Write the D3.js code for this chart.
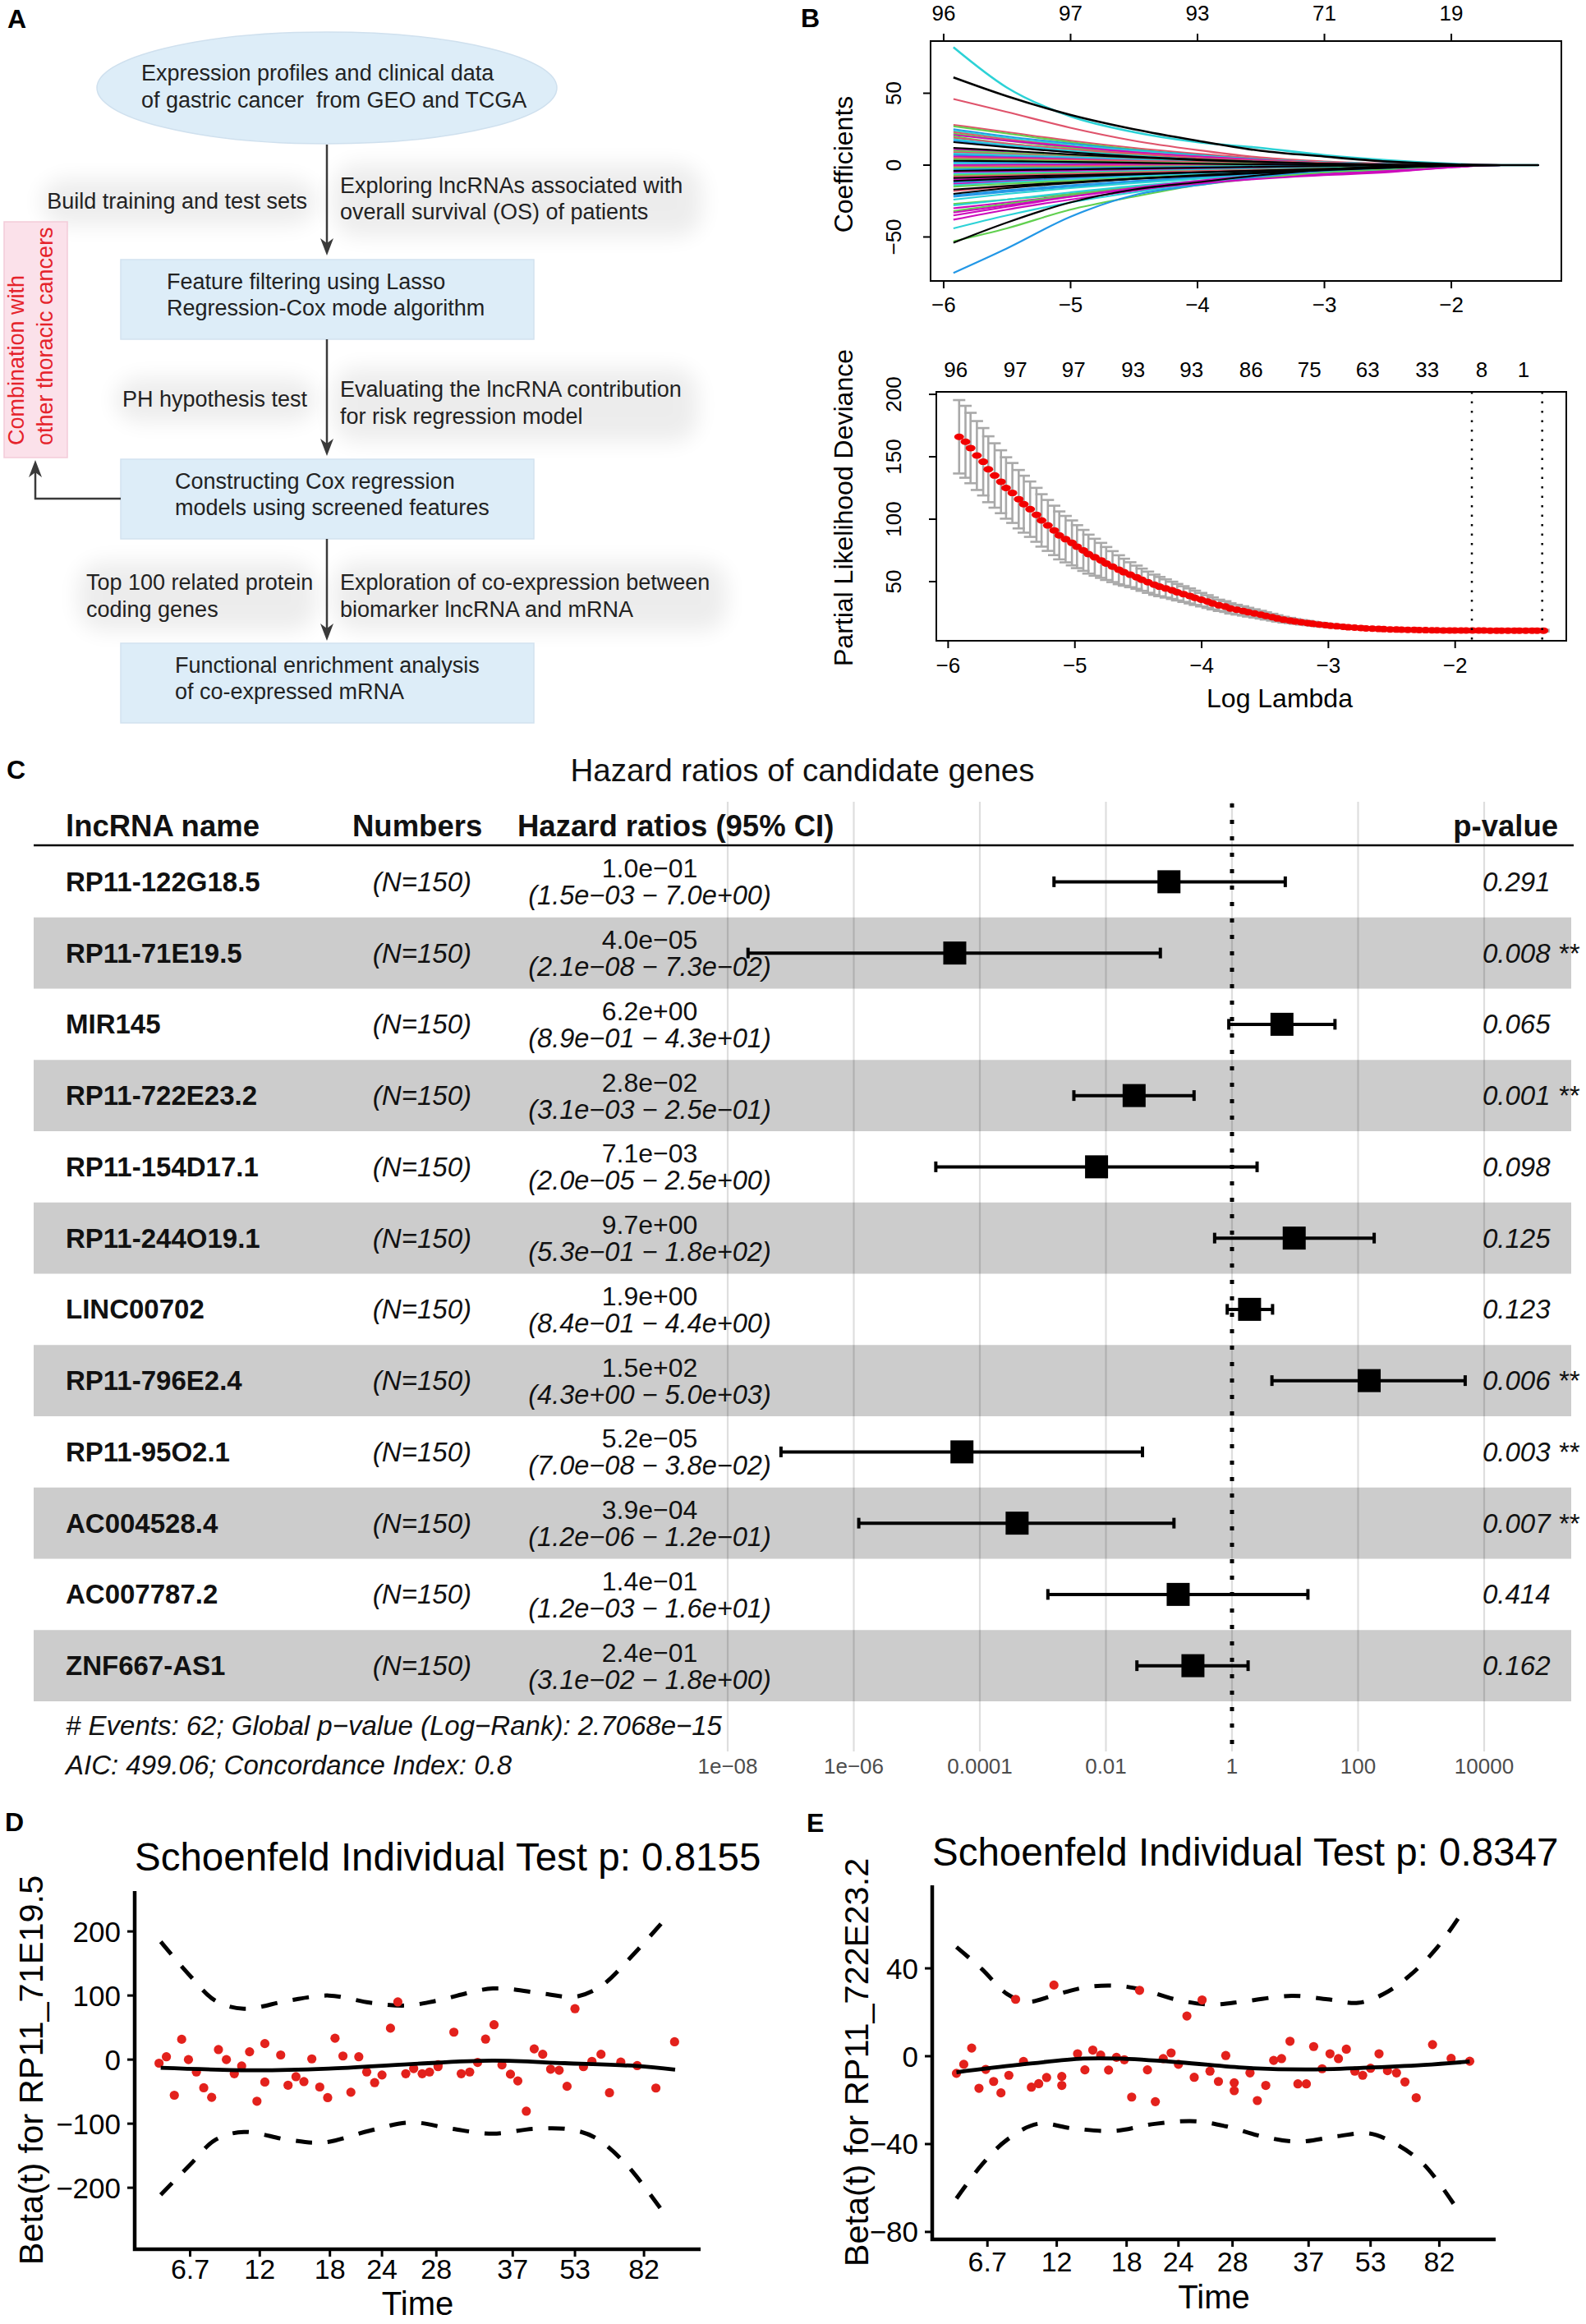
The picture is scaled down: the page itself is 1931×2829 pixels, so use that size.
<!DOCTYPE html>
<html><head><meta charset="utf-8">
<script src="https://cdn.jsdelivr.net/npm/d3@7"></script>
<style>
html,body{margin:0;padding:0;background:#fff;}
svg{display:block;font-family:"Liberation Sans",Arial,Helvetica,sans-serif;}
text{white-space:pre;}
</style></head><body>
<svg id="fig" width="1931" height="2829"></svg>
<script>
// ================= DATA =================
// Panel A (flow chart text)
const ellipseLines = ["Expression profiles and clinical data", "of gastric cancer  from GEO and TCGA"];
const boxLines = [["Feature filtering using Lasso", "Regression-Cox mode algorithm"],
                  ["Constructing Cox regression", "models using screened features"],
                  ["Functional enrichment analysis", "of co-expressed mRNA"]];
const leftNotes = [["Build training and test sets"], ["PH hypothesis test"], ["Top 100 related protein", "coding genes"]];
const rightNotes = [["Exploring lncRNAs associated with", "overall survival (OS) of patients"],
                    ["Evaluating the lncRNA contribution", "for risk regression model"],
                    ["Exploration of co-expression between", "biomarker lncRNA and mRNA"]];
const sideNote = ["Combination with", "other thoracic cancers"];

// Panel B (top): lasso coefficient paths
const coefLambda = [-5.92, -5.5, -5.0, -4.5, -4.0, -3.5, -3.0, -2.5, -2.0, -1.6, -1.31];
const coefPaths = [
 [82,54,34,23,16,12,7,3.4,1,0,0],[61,48,35,25,17,10,6,2.5,0.5,0,0],[46,37,26,17,10.5,5.3,2.5,1,0.2,0,0],
 [28,23,17,12,8,4.5,2.2,0.8,0.2,0,0],[27,22,16,11,7,4,2,0.7,0.1,0,0],[25,20,15,10.5,7,4,2,0.8,0.2,0,0],
 [24,19,14,10,6.5,3.8,1.8,0.6,0.1,0,0],[23,18,13,9,6,3.5,1.6,0.5,0.1,0,0],[22,17,12,8,5,3,1.4,0.4,0,0,0],
 [21,17,13,9,6,3.5,1.5,0.5,0.1,0,0],[20,15,11,7,4.5,2.5,1.2,0.3,0,0,0],[19,15,11,8,5,3,1.5,0.5,0,0,0],
 [18,14,10,6.5,4,2.2,1,0.3,0,0,0],[17,13,9,6,3.8,2,0.9,0.2,0,0,0],[16,12.5,9,6,4,2.3,1,0.3,0,0,0],
 [12,10,7.5,5.5,3.5,2,1,0.3,0,0,0],[11,9,7,5,3.2,1.8,0.8,0.2,0,0,0],[10,8.5,6.5,4.5,3,1.6,0.7,0.2,0,0,0],
 [9,7.5,6,4.2,2.8,1.5,0.7,0.2,0,0,0],[8,7,5.5,4,2.6,1.4,0.6,0.2,0,0,0],[7,6,4.5,3.2,2,1.1,0.5,0.1,0,0,0],
 [6,5.2,4.2,3,2,1.1,0.5,0.1,0,0,0],[5,4.5,3.8,3,2.2,1.3,0.6,0.2,0,0,0],[4,3.5,2.8,2,1.3,0.7,0.3,0.1,0,0,0],
 [3,2.7,2.2,1.6,1,0.5,0.2,0,0,0,0],[2,1.8,1.5,1.1,0.7,0.4,0.2,0,0,0,0],[1,1,0.8,0.6,0.4,0.2,0.1,0,0,0,0],
 [0,0.2,0.4,0.5,0.4,0.3,0.1,0,0,0,0],[-1,-0.8,-0.6,-0.4,-0.3,-0.2,-0.1,0,0,0,0],[-2,-1.8,-1.5,-1.1,-0.8,-0.5,-0.3,-0.1,0,0,0],
 [-3,-2.6,-2.2,-1.7,-1.2,-0.8,-0.4,-0.1,0,0,0],[-4,-3.5,-3,-2.4,-1.8,-1.2,-0.6,-0.2,0,0,0],[-5,-4.5,-4,-3.3,-2.6,-1.8,-1.1,-0.4,0,0,0],
 [-6,-5.5,-5,-4.2,-3.4,-2.6,-1.8,-0.8,-0.1,0,0],[-7,-6.4,-5.6,-4.8,-4,-3.2,-2.4,-1.2,-0.2,0,0],[-8,-7.2,-6.2,-5.2,-4.2,-3.4,-2.6,-1.6,-0.4,0,0],
 [-9,-8,-7,-6,-5,-4,-3,-1.8,-0.5,0,0],[-10,-9,-8,-7,-6,-5.2,-4.2,-2.5,-0.8,0,0],[-11,-9.5,-8,-6.5,-5,-3.8,-2.6,-1.4,-0.3,0,0],
 [-12,-10.5,-9,-7.5,-6,-5,-4,-2.6,-0.8,0,0],[-13,-11.5,-10,-8.5,-7,-6,-5,-3.5,-1.2,0,0],[-14,-12,-10,-8,-6.5,-5,-3.6,-2,-0.5,0,0],
 [-15,-13,-11,-9,-7,-5.5,-4,-2.2,-0.5,0,0],[-17,-14.5,-12,-9.5,-7.5,-5.5,-3.5,-1.8,-0.4,0,0],[-18,-15,-12,-9.5,-7.5,-6,-4.5,-2.5,-0.6,0,0],
 [-20,-16,-12.5,-9.5,-7,-5,-3,-1.5,-0.3,0,0],[-21,-17.5,-14,-11,-8.5,-6.5,-4.5,-2.5,-0.6,0,0],[-22,-18.5,-15,-12,-9,-7,-5.5,-3.5,-1,0,0],
 [-24,-20,-16,-12.5,-9.5,-7,-5,-2.8,-0.7,0,0],[-27,-24,-20,-15,-11,-8,-5.5,-3,-0.8,0,0],[-28,-24,-19,-14.5,-11,-8,-6,-3.5,-1,0,0],
 [-30,-26,-21,-16,-12,-8.5,-6,-4,-1.2,0,0],[-32,-27,-21,-16,-12,-8.5,-6,-3.5,-1,0,0],[-35,-29,-22,-16,-11,-7.5,-6,-4.5,-1.5,0,0],
 [-38,-31,-24,-18,-13,-9,-6.5,-4,-1.2,0,0],[-44,-35,-26,-19,-13,-8,-5,-2.5,-0.8,0,0],[-53,-44,-31,-22,-14,-9,-5,-2.5,-0.8,0,0],
 [-54,-40,-26,-17,-12,-7,-3.2,-0.8,0,0,0],[-75,-58,-36,-21,-14,-8,-4,-2,-0.5,0,0],[-33,-28,-22,-17,-13,-9.5,-7,-5,-1.5,0,0]
];
const coefTopTicks = [-6, -5, -4, -3, -2];
const coefTopLabels = ["96", "97", "93", "71", "19"];
const coefYTicks = [-50, 0, 50];

// Panel B (bottom): cross-validation curve
const cvLambda = [-5.91,-5.86,-5.82,-5.77,-5.72,-5.68,-5.63,-5.58,-5.54,-5.49,
 -5.44,-5.40,-5.35,-5.30,-5.26,-5.21,-5.16,-5.12,-5.07,-5.02,
 -4.98,-4.93,-4.89,-4.84,-4.79,-4.75,-4.70,-4.65,-4.61,-4.56,
 -4.51,-4.47,-4.42,-4.37,-4.33,-4.28,-4.23,-4.19,-4.14,-4.09,
 -4.05,-4.00,-3.95,-3.91,-3.86,-3.81,-3.77,-3.72,-3.67,-3.63,
 -3.58,-3.53,-3.49,-3.44,-3.40,-3.35,-3.30,-3.26,-3.21,-3.16,
 -3.12,-3.07,-3.02,-2.98,-2.93,-2.88,-2.84,-2.79,-2.74,-2.70,
 -2.65,-2.60,-2.56,-2.51,-2.46,-2.42,-2.37,-2.32,-2.28,-2.23,
 -2.18,-2.14,-2.09,-2.04,-2.00,-1.95,-1.91,-1.86,-1.81,-1.77,
 -1.72,-1.67,-1.63,-1.58,-1.53,-1.49,-1.44,-1.39,-1.35,-1.30];
const cvMean = [166,162,157,151,146,140,135,130,125,121,
 116,112,108,103.5,99,95,91,87,84,81,
 78,75,72,69.5,67,64.5,62,59.5,57.5,55.5,
 53.5,51.5,49.5,47.5,46,44.5,43,41.5,40,38.5,
 37,35.5,34,32.5,31,30,28.5,27.5,26.5,25.5,
 24.5,23.5,22.5,21.5,20.5,19.5,18.8,18.1,17.4,16.8,
 16.2,15.6,15.1,14.6,14.2,13.8,13.4,13.1,12.8,12.5,
 12.3,12.1,11.9,11.7,11.6,11.5,11.4,11.3,11.2,11.1,
 11.0,11.0,10.9,10.9,10.9,10.8,10.8,10.8,10.8,10.8,
 10.7,10.7,10.7,10.7,10.7,10.7,10.7,10.7,10.7,10.7];
const cvSd = [29.4,28.8,28.2,27.6,27,26.4,25.8,25.2,24.6,24,
 23.4,22.8,22.2,21.6,21,20.4,19.8,19.2,18.6,18,
 17.2,16.4,15.6,14.8,14,13.2,12.4,11.6,10.8,10,
 9.3,8.9,8.5,8.1,7.7,7.3,6.9,6.6,6.3,6,
 5.7,5.4,5.1,4.8,4.5,4.3,4.1,3.9,3.7,3.5,
 3.3,3.1,2.9,2.7,2.5,2.3,2.1,1.9,1.8,1.7,
 1.6,1.5,1.4,1.3,1.2,1.1,1.0,0.9,0.9,0.8,
 0.8,0.8,0.8,0.8,0.8,0.8,0.8,0.8,0.8,0.8,
 0.7,0.7,0.7,0.7,0.7,0.7,0.7,0.7,0.7,0.7,
 0.7,0.7,0.7,0.7,0.7,0.7,0.7,0.7,0.7,0.7];
const cvNzLambda = [-5.94,-5.47,-5.01,-4.54,-4.08,-3.61,-3.15,-2.69,-2.22,-1.79,-1.46];
const cvNzLabels = ["96","97","97","93","93","86","75","63","33","8","1"];
const cvCutoffs = [-1.865, -1.31];
const cvXTicks = [-6, -5, -4, -3, -2];
const cvYTicks = [50, 100, 150, 200];

// Panel C: forest plot
const genes = ["RP11-122G18.5","RP11-71E19.5","MIR145","RP11-722E23.2","RP11-154D17.1","RP11-244O19.1",
               "LINC00702","RP11-796E2.4","RP11-95O2.1","AC004528.4","AC007787.2","ZNF667-AS1"];
const nLabels = ["(N=150)","(N=150)","(N=150)","(N=150)","(N=150)","(N=150)","(N=150)","(N=150)","(N=150)","(N=150)","(N=150)","(N=150)"];
const hr     = [1.0e-1, 4.0e-5, 6.2, 2.8e-2, 7.1e-3, 9.7, 1.9, 1.5e2, 5.2e-5, 3.9e-4, 1.4e-1, 2.4e-1];
const hrLow  = [1.5e-3, 2.1e-8, 8.9e-1, 3.1e-3, 2.0e-5, 5.3e-1, 8.4e-1, 4.3, 7.0e-8, 1.2e-6, 1.2e-3, 3.1e-2];
const hrHigh = [7.0, 7.3e-2, 4.3e1, 2.5e-1, 2.5, 1.8e2, 4.4, 5.0e3, 3.8e-2, 1.2e-1, 1.6e1, 1.8];
const pValues = ["0.291","0.008","0.065","0.001","0.098","0.125","0.123","0.006","0.003","0.007","0.414","0.162"];
const pStars  = ["","**","","**","","","","**","**","**","",""];
const forestTicks = [1e-8, 1e-6, 1e-4, 1e-2, 1, 100, 10000];
const forestTickLabels = ["1e\u221208","1e\u221206","0.0001","0.01","1","100","10000"];
const forestFooter = ["# Events: 62; Global p\u2212value (Log\u2212Rank): 2.7068e\u221215", "AIC: 499.06; Concordance Index: 0.8"];

// Panels D & E: Schoenfeld residuals (time on transformed scale 0..1)
const timeTickPos = [0.098, 0.221, 0.345, 0.437, 0.533, 0.668, 0.778, 0.900];
const timeTickLabels = ["6.7","12","18","24","28","37","53","82"];
const eventTime = [0.043,0.056,0.070,0.083,0.095,0.109,0.122,0.136,0.148,0.162,0.176,0.189,0.203,0.216,0.230,0.230,
 0.258,0.271,0.285,0.299,0.313,0.327,0.341,0.354,0.368,0.382,0.396,0.410,0.424,0.437,0.452,0.465,0.479,0.493,0.508,
 0.521,0.536,0.536,0.564,0.577,0.592,0.606,0.620,0.635,0.649,0.664,0.677,0.692,0.706,0.721,0.735,0.750,0.764,0.778,
 0.793,0.808,0.824,0.839,0.859,0.888,0.921,0.954];
const dResid = [-5.6,4.4,-55.6,31.7,0,-19.4,-44,-59,15.6,0,-22,-10,12.2,-65,25,-35,7.2,-40,-26.7,-34.4,
 1.1,-42.8,-59.4,33.3,5.6,-51,4.4,-19.4,-36,-24,49,90,-22,-14,-22,-19.4,-11,-8,42.8,-22,
 -19.4,-4.4,32,54.4,-8.3,-22.8,-33.3,-80.5,16.7,8.3,-15,-16.7,-41.7,79.4,-11,-2.8,8.3,-51.7,-3.9,-9.4,-44.4,27.8];
const dFit = [[0.046,-12.8],[0.215,-16.7],[0.343,-14],[0.488,-7],[0.633,-1.7],[0.76,-5.6],[0.887,-10],[0.955,-15.6]];
const dUpper = [[0.046,184],[0.098,130.6],[0.143,91.7],[0.193,79.4],[0.27,91.7],[0.343,100],[0.415,88.9],[0.479,84.4],
 [0.533,91.7],[0.633,111],[0.723,102.8],[0.778,98],[0.823,114],[0.878,161],[0.946,228]];
const dLower = [[0.046,-211],[0.098,-164],[0.143,-125],[0.193,-113],[0.27,-125],[0.333,-129.4],[0.415,-111],[0.488,-98],
 [0.56,-108],[0.633,-115.6],[0.705,-108],[0.769,-109],[0.814,-122],[0.869,-164],[0.941,-247]];
const eResid = [-7.8,-3.7,3.7,-14.6,-6,-11.5,-16.7,-8.7,25.9,-2.4,-14.1,-12.5,-9.7,32.4,-9.2,-13.3,1.1,-6.2,2.8,0.5,
 -6.3,-0.5,-1.6,-18.6,30,-6.2,-20.7,-1.1,1.5,-3.7,18.3,-9.6,25.6,-6.8,-11.5,0.3,-12.1,-15.7,-7.6,-20.2,
 -13.3,-1.9,-1.1,6.8,-12.6,-12.6,4.4,-5.7,1.1,-1.1,3.2,-6.8,-8.7,-5.5,1.1,-6.6,-7.6,-11.7,-18.9,5.3,-1,-2.3];
const eFit = [[0.043,-7.3],[0.151,-4],[0.268,-1.1],[0.332,-1.1],[0.44,-2.8],[0.557,-5.3],[0.666,-6],[0.765,-5.3],[0.873,-4],[0.954,-2.4]];
const eUpper = [[0.043,49.7],[0.088,39.7],[0.133,28.3],[0.169,24.8],[0.223,28.3],[0.277,31.6],[0.332,32],[0.377,30],[0.431,25.9],
 [0.494,23.5],[0.557,25.1],[0.638,27.5],[0.702,25.9],[0.756,24.3],[0.801,28.3],[0.846,36.4],[0.896,49.4],[0.945,67.2]];
const eLower = [[0.043,-64.8],[0.088,-49.4],[0.133,-38],[0.187,-30.8],[0.25,-32.9],[0.323,-34],[0.395,-30.8],[0.467,-29.6],
 [0.521,-31.9],[0.584,-36.4],[0.648,-38.9],[0.72,-36.4],[0.774,-35.1],[0.819,-39.4],[0.873,-49.4],[0.936,-71.3]];

// ================= DRAWING =================
const svg = d3.select('#fig');
const defs = svg.append('defs');
defs.append('filter').attr('id','haze').attr('x','-40%').attr('y','-80%').attr('width','180%').attr('height','260%')
  .append('feGaussianBlur').attr('stdDeviation', 13);

function txt(g, x, y, s, o = {}) {
  const t = g.append('text').attr('x', x).attr('y', y).text(s)
    .attr('font-size', o.size || 27).attr('fill', o.fill || '#222')
    .attr('text-anchor', o.anchor || 'start').attr('dominant-baseline', 'central');
  if (o.weight) t.attr('font-weight', o.weight);
  if (o.style) t.attr('font-style', o.style);
  if (o.rotate) t.attr('transform', `rotate(${o.rotate},${x},${y})`);
  return t;
}

// panel letters
[["A",9,23],["B",975,22],["C",8,937],["D",6,2218],["E",982,2219]].forEach(([l,x,y]) =>
  txt(svg, x, y, l, {size: 32, weight: 'bold', fill: '#000'}));

// ---------- Panel A ----------
const gA = svg.append('g');
const hazeRects = [[50,218,335,56],[405,200,450,88],[140,460,245,54],[405,448,445,90],[95,684,290,84],[405,684,480,84]];
hazeRects.forEach(r => gA.append('rect').attr('x', r[0]).attr('y', r[1]).attr('width', r[2]).attr('height', r[3])
  .attr('rx', 30).attr('fill', '#000').attr('opacity', 0.07).attr('filter', 'url(#haze)'));

gA.append('ellipse').attr('cx', 398).attr('cy', 107).attr('rx', 280).attr('ry', 68)
  .attr('fill', '#ddedf8').attr('stroke', '#cfe0ee').attr('stroke-width', 1.5);
ellipseLines.forEach((s, i) => txt(gA, 172, 89 + i * 33, s));

const boxY = [316, 559, 783], boxTextX = [203, 213, 213];
boxY.forEach((y, i) => {
  gA.append('rect').attr('x', 147).attr('y', y).attr('width', 503).attr('height', 97)
    .attr('fill', '#ddedf8').attr('stroke', '#d2e2ef').attr('stroke-width', 1.5);
  boxLines[i].forEach((s, j) => txt(gA, boxTextX[i], y + 27 + j * 32, s));
});

const leftPos = [{x: 374, a: 'end', y: [245]}, {x: 374, a: 'end', y: [486]}, {x: 105, a: 'start', y: [709, 742]}];
leftNotes.forEach((lines, i) => lines.forEach((s, j) => txt(gA, leftPos[i].x, leftPos[i].y[j], s, {anchor: leftPos[i].a})));
const rightY = [[226, 258], [474, 507], [709, 742]];
rightNotes.forEach((lines, i) => lines.forEach((s, j) => txt(gA, 414, rightY[i][j], s)));

const arrowCol = '#3a3a3a';
function arrowHead(x, y, dir) { // dir 1 = down, -1 = up; (x,y) = tip
  gA.append('path').attr('d', `M${x},${y} L${x-8},${y-dir*21} L${x},${y-dir*15} L${x+8},${y-dir*21} Z`).attr('fill', arrowCol);
}
[[176, 311], [413, 555], [656, 780]].forEach(([a, b]) => {
  gA.append('line').attr('x1', 398).attr('x2', 398).attr('y1', a).attr('y2', b - 10)
    .attr('stroke', arrowCol).attr('stroke-width', 2.5);
  arrowHead(398, b, 1);
});
gA.append('rect').attr('x', 5).attr('y', 270).attr('width', 77).attr('height', 287)
  .attr('fill', '#fbe1ea').attr('stroke', '#f3cbd9').attr('stroke-width', 1.5);
sideNote.forEach((s, i) => txt(gA, 20 + i * 35, 542, s, {rotate: -90, fill: '#e5232b'}));
gA.append('path').attr('d', 'M147,607 L43,607 L43,570').attr('fill', 'none').attr('stroke', arrowCol).attr('stroke-width', 2.5);
arrowHead(43, 560, -1);

// ---------- Panel B (top) ----------
const gB1 = svg.append('g');
const xB1 = d3.scaleLinear().domain([-6.1, -1.13]).range([1133, 1901]);
const yB1 = d3.scaleLinear().domain([-80.6, 86.3]).range([342, 50]);
defs.append('clipPath').attr('id', 'clipB1').append('rect').attr('x', 1133).attr('y', 50).attr('width', 768).attr('height', 292);
const pal = {k: '#000000', r: '#DF536B', g: '#61D04F', b: '#2297E6', c: '#2CD2D6', m: '#CD0BBC'};
const coefColorOrder = "ckrrgbcrgmgrcbkkmgrcbmrgkbcmrgbkmcgrkmkbmcgkrkbbcgcmgmmcgkbm";
const coefLine = d3.line().x((d, i) => xB1(coefLambda[i])).y(d => yB1(d)).curve(d3.curveMonotoneX);
const pathOrder = d3.range(coefPaths.length).sort((a, b) =>
  (coefColorOrder[a] === 'k') - (coefColorOrder[b] === 'k') || a - b);
const gLines = gB1.append('g').attr('clip-path', 'url(#clipB1)');
pathOrder.forEach(i => gLines.append('path').attr('d', coefLine(coefPaths[i])).attr('fill', 'none')
  .attr('stroke', pal[coefColorOrder[i]]).attr('stroke-width', i === 0 || i === 1 ? 2.6 : 2.2));
gB1.append('rect').attr('x', 1133).attr('y', 50).attr('width', 768).attr('height', 292)
  .attr('fill', 'none').attr('stroke', '#000').attr('stroke-width', 2);

function styleAxis(g, size) {
  g.selectAll('text').attr('font-size', size).attr('fill', '#000').attr('font-family', null);
  g.selectAll('line').attr('stroke', '#000').attr('stroke-width', 2);
  g.select('.domain').remove();
}
const intFmt = d3.format('d');
const axB1b = gB1.append('g').attr('transform', 'translate(0,342)')
  .call(d3.axisBottom(xB1).tickValues(cvXTicks).tickFormat(intFmt).tickSize(9).tickPadding(11));
styleAxis(axB1b, 26);
gB1.append('line').attr('x1', xB1(-6)).attr('x2', xB1(-2)).attr('y1', 342).attr('y2', 342).attr('stroke', '#000').attr('stroke-width', 2);
const axB1t = gB1.append('g').attr('transform', 'translate(0,50)')
  .call(d3.axisTop(xB1).tickValues(coefTopTicks).tickFormat((d, i) => coefTopLabels[i]).tickSize(9).tickPadding(16));
styleAxis(axB1t, 26);
gB1.append('line').attr('x1', xB1(-6)).attr('x2', xB1(-2)).attr('y1', 50).attr('y2', 50).attr('stroke', '#000').attr('stroke-width', 2);
coefYTicks.forEach(v => {
  gB1.append('line').attr('x1', 1124).attr('x2', 1133).attr('y1', yB1(v)).attr('y2', yB1(v)).attr('stroke', '#000').attr('stroke-width', 2);
  txt(gB1, 1088, yB1(v), intFmt(v), {size: 26, anchor: 'middle', rotate: -90, fill: '#000'});
});
gB1.append('line').attr('x1', 1133).attr('x2', 1133).attr('y1', yB1(-50)).attr('y2', yB1(50)).attr('stroke', '#000').attr('stroke-width', 2);
txt(gB1, 1027, 200, "Coefficients", {size: 32, anchor: 'middle', rotate: -90, fill: '#000'});

// ---------- Panel B (bottom) ----------
const gB2 = svg.append('g');
const xB2 = d3.scaleLinear().domain([-6.09, -1.12]).range([1140, 1907]);
const yB2 = d3.scaleLinear().domain([2.6, 202]).range([780, 477]);
cvLambda.forEach((l, i) => {
  const x = xB2(l), y1 = yB2(cvMean[i] + cvSd[i]), y2 = yB2(cvMean[i] - cvSd[i]);
  gB2.append('line').attr('x1', x).attr('x2', x).attr('y1', y1).attr('y2', y2).attr('stroke', '#A9A9A9').attr('stroke-width', 2.6);
  [y1, y2].forEach(y => gB2.append('line').attr('x1', x - 7.5).attr('x2', x + 7.5).attr('y1', y).attr('y2', y)
    .attr('stroke', '#A9A9A9').attr('stroke-width', 2.6));
});
gB2.selectAll('ellipse.cv').data(cvLambda).enter().append('ellipse').attr('class', 'cv')
  .attr('cx', d => xB2(d)).attr('cy', (d, i) => yB2(cvMean[i])).attr('rx', 6).attr('ry', 4).attr('fill', '#F20000');
cvCutoffs.forEach(l => gB2.append('line').attr('x1', xB2(l)).attr('x2', xB2(l)).attr('y1', 477).attr('y2', 780)
  .attr('stroke', '#000').attr('stroke-width', 2.5).attr('stroke-dasharray', '2.5,9'));
gB2.append('rect').attr('x', 1140).attr('y', 477).attr('width', 767).attr('height', 303)
  .attr('fill', 'none').attr('stroke', '#000').attr('stroke-width', 2);
const axB2b = gB2.append('g').attr('transform', 'translate(0,780)')
  .call(d3.axisBottom(xB2).tickValues(cvXTicks).tickFormat(intFmt).tickSize(9).tickPadding(12));
styleAxis(axB2b, 26);
gB2.append('line').attr('x1', xB2(-6)).attr('x2', xB2(-2)).attr('y1', 780).attr('y2', 780).attr('stroke', '#000').attr('stroke-width', 2);
const axB2t = gB2.append('g').attr('transform', 'translate(0,477)')
  .call(d3.axisTop(xB2).tickValues(cvNzLambda).tickFormat((d, i) => cvNzLabels[i]).tickSize(0).tickPadding(18));
styleAxis(axB2t, 26);
cvYTicks.forEach(v => {
  gB2.append('line').attr('x1', 1131).attr('x2', 1140).attr('y1', yB2(v)).attr('y2', yB2(v)).attr('stroke', '#000').attr('stroke-width', 2);
  txt(gB2, 1088, yB2(v), String(v), {size: 26, anchor: 'middle', rotate: -90, fill: '#000'});
});
txt(gB2, 1027, 618, "Partial Likelihood Deviance", {size: 32, anchor: 'middle', rotate: -90, fill: '#000'});
txt(gB2, 1558, 850, "Log Lambda", {size: 32, anchor: 'middle', fill: '#000'});

// ---------- Panel C ----------
const gC = svg.append('g');
const xF = d3.scaleLog().domain([1e-8, 1e4]).range([886, 1807]);
const yF = d3.scaleBand().domain(genes).range([1030, 2071]);
const rowMid = g => yF(g) + yF.bandwidth() / 2;
genes.forEach((g, i) => { if (i % 2 === 1)
  gC.append('rect').attr('x', 41).attr('y', yF(g)).attr('width', 1872).attr('height', yF.bandwidth()).attr('fill', '#cccccc'); });
forestTicks.forEach(v => gC.append('line').attr('x1', xF(v)).attr('x2', xF(v)).attr('y1', 976).attr('y2', 2132)
  .attr('stroke', '#000').attr('stroke-opacity', 0.13).attr('stroke-width', 2.2));
gC.append('line').attr('x1', xF(1)).attr('x2', xF(1)).attr('y1', 978).attr('y2', 2132)
  .attr('stroke', '#000').attr('stroke-width', 5).attr('stroke-dasharray', '5,15');
txt(gC, 977, 937, "Hazard ratios of candidate genes", {size: 38.5, anchor: 'middle', fill: '#111'});
txt(gC, 80, 1005, "lncRNA name", {size: 36.5, weight: 'bold', fill: '#111'});
txt(gC, 429, 1005, "Numbers", {size: 36.5, weight: 'bold', fill: '#111'});
txt(gC, 630, 1005, "Hazard ratios (95% CI)", {size: 36.5, weight: 'bold', fill: '#111'});
txt(gC, 1897, 1005, "p-value", {size: 36.5, weight: 'bold', anchor: 'end', fill: '#111'});
gC.append('line').attr('x1', 41).attr('x2', 1916).attr('y1', 1029).attr('y2', 1029).attr('stroke', '#000').attr('stroke-width', 2.5);

function sci(v) {
  const [m, e] = v.toExponential(1).split('e');
  const n = +e;
  return m + 'e' + (n < 0 ? '\u2212' : '+') + String(Math.abs(n)).padStart(2, '0');
}
genes.forEach((g, i) => {
  const yc = rowMid(g);
  txt(gC, 80, yc, g, {size: 33, weight: 'bold', fill: '#111'});
  txt(gC, 574, yc, nLabels[i], {size: 33, style: 'italic', anchor: 'end', fill: '#111'});
  txt(gC, 791, yc - 16, sci(hr[i]), {size: 32, anchor: 'middle', fill: '#111'});
  txt(gC, 791, yc + 17, "(" + sci(hrLow[i]) + " \u2212 " + sci(hrHigh[i]) + ")", {size: 32.5, style: 'italic', anchor: 'middle', fill: '#111'});
  txt(gC, 1805, yc, pValues[i] + (pStars[i] ? " " + pStars[i] : ""), {size: 33, style: 'italic', fill: '#111'});
  gC.append('line').attr('x1', xF(hrLow[i])).attr('x2', xF(hrHigh[i])).attr('y1', yc).attr('y2', yc)
    .attr('stroke', '#000').attr('stroke-width', 4);
  [hrLow[i], hrHigh[i]].forEach(v => gC.append('line').attr('x1', xF(v)).attr('x2', xF(v))
    .attr('y1', yc - 6.5).attr('y2', yc + 6.5).attr('stroke', '#000').attr('stroke-width', 4));
  gC.append('rect').attr('x', xF(hr[i]) - 14).attr('y', yc - 14).attr('width', 28).attr('height', 28).attr('fill', '#000');
});
forestTicks.forEach((v, i) => txt(gC, xF(v), 2150, forestTickLabels[i], {size: 26, anchor: 'middle', fill: '#4d4d4d'}));
forestFooter.forEach((s, i) => txt(gC, 80, 2100 + i * 48, s, {size: 33, style: 'italic', fill: '#111'}));

// ---------- Panels D & E ----------
function schoenfeld(c) {
  const g = svg.append('g');
  const x = d3.scaleLinear().domain([0, 1]).range([c.x0, c.x1]);
  const y = d3.scaleLinear().domain(c.dom).range([c.yBot, c.yTop]);
  const line = d3.line().x(d => x(d[0])).y(d => y(d[1])).curve(d3.curveCatmullRom.alpha(0.5));
  [c.up, c.lo].forEach(arr => g.append('path').attr('d', line(arr)).attr('fill', 'none')
    .attr('stroke', '#000').attr('stroke-width', 5).attr('stroke-dasharray', '20,19'));
  g.selectAll('circle').data(c.vals).enter().append('circle')
    .attr('cx', (d, i) => x(eventTime[i])).attr('cy', d => y(d)).attr('r', 5.6).attr('fill', '#E3211C');
  g.append('path').attr('d', line(c.fit)).attr('fill', 'none').attr('stroke', '#000').attr('stroke-width', 4.8);
  g.append('path').attr('d', `M${c.x0},${c.yTop} L${c.x0},${c.yBot} L${c.x1},${c.yBot}`)
    .attr('fill', 'none').attr('stroke', '#000').attr('stroke-width', 4.5);
  c.yTicks.forEach(v => {
    g.append('line').attr('x1', c.x0 - 9).attr('x2', c.x0).attr('y1', y(v)).attr('y2', y(v)).attr('stroke', '#000').attr('stroke-width', 3);
    txt(g, c.x0 - 17, y(v), intFmt(v), {size: 35, anchor: 'end', fill: '#000'});
  });
  timeTickPos.forEach((t, i) => {
    g.append('line').attr('x1', x(t)).attr('x2', x(t)).attr('y1', c.yBot).attr('y2', c.yBot + 9).attr('stroke', '#000').attr('stroke-width', 3);
    txt(g, x(t), c.tickY, timeTickLabels[i], {size: 34, anchor: 'middle', fill: '#000'});
  });
  txt(g, (c.x0 + c.x1) / 2, c.timeY, "Time", {size: 40, anchor: 'middle', fill: '#000'});
  txt(g, c.ylabX, (c.yTop + c.yBot) / 2, c.ylab, {size: 41.5, anchor: 'middle', rotate: -90, fill: '#000'});
  txt(g, c.x0, c.titleY, c.title, {size: 47.5, fill: '#000'});
}
schoenfeld({x0: 164, x1: 853, yTop: 2302, yBot: 2738, dom: [-296, 263], yTicks: [-200, -100, 0, 100, 200],
  vals: dResid, fit: dFit, up: dUpper, lo: dLower, tickY: 2762, timeY: 2804, ylabX: 37, titleY: 2260,
  ylab: "Beta(t) for RP11_71E19.5", title: "Schoenfeld Individual Test p: 0.8155"});
schoenfeld({x0: 1135, x1: 1821, yTop: 2295, yBot: 2726, dom: [-83.4, 77.8], yTicks: [-80, -40, 0, 40],
  vals: eResid, fit: eFit, up: eUpper, lo: eLower, tickY: 2753, timeY: 2796, ylabX: 1042, titleY: 2254,
  ylab: "Beta(t) for RP11_722E23.2", title: "Schoenfeld Individual Test p: 0.8347"});
</script>
</body></html>
